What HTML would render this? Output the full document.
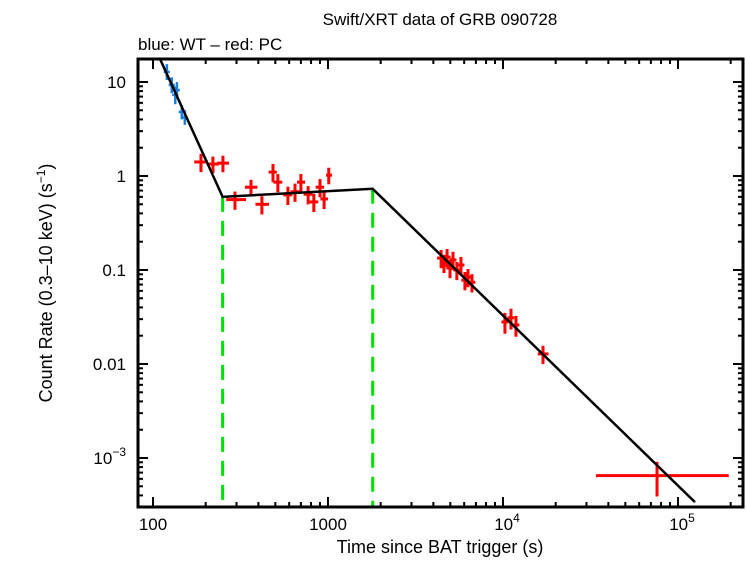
<!DOCTYPE html>
<html><head><meta charset="utf-8"><style>
body{margin:0;background:#fff;}
svg text{font-family:"Liberation Sans",sans-serif;fill:#000;}
</style></head><body>
<svg id="c" width="746" height="558" xmlns="http://www.w3.org/2000/svg">
<text x="440" y="25" font-size="17" text-anchor="middle">Swift/XRT data of GRB 090728</text>
<text x="138" y="50" font-size="17">blue: WT – red: PC</text>
<text x="440" y="553" font-size="18" text-anchor="middle">Time since BAT trigger (s)</text>
<text transform="translate(52,283) rotate(-90)" font-size="18" text-anchor="middle">Count Rate (0.3–10 keV) (s<tspan dy="-7" font-size="12">−1</tspan><tspan dy="7">)</tspan></text>
<g id="g"></g>
</svg>
<script>
const xTickVals=[100,1000,10000,100000];
const xTickLabels=["100","1000","10^4","10^5"];
const yTickVals=[10,1,0.1,0.01,0.001];
const yTickLabels=["10","1","0.1","0.01","10^-3"];
const wtT=[120,128,134,137,146,152];
const wtY=[12.8,9.3,7.3,8.2,4.8,4.2];
const wtYlo=[10.5,7.6,5.8,6.6,4.0,3.5];
const wtYhi=[15.5,11.2,9.0,10.0,5.7,5.0];
const pcT=[188,220,251,294,363,419,485,517,590,648,700,770,830,900,950,1010,4430,4600,4790,4980,5180,5450,5750,6060,6310,6650,10260,11110,11860,16930,75900];
const pcY=[1.41,1.34,1.37,0.56,0.76,0.50,1.1,0.86,0.63,0.68,0.86,0.64,0.53,0.76,0.57,1.02,0.134,0.119,0.137,0.105,0.128,0.1,0.113,0.078,0.084,0.074,0.028,0.031,0.026,0.0128,0.00065];
const pcTlo=[172,203,232,262,335,385,458,488,555,610,665,725,785,850,905,975,4200,4380,4560,4750,4950,5200,5480,5780,6020,6350,9800,10600,11300,15800,34000];
const pcThi=[206,238,272,340,395,460,510,548,625,690,740,815,880,950,1000,1055,4650,4820,5020,5220,5420,5700,6020,6350,6600,6950,10700,11600,12400,18200,195000];
const pcYrel=[0.22,0.2,0.2,0.22,0.2,0.22,0.22,0.22,0.22,0.22,0.22,0.22,0.22,0.22,0.22,0.2,0.22,0.22,0.22,0.22,0.22,0.22,0.22,0.22,0.22,0.22,0.25,0.25,0.25,0.22,0.4];
const breaks=[250,1800];
const breakY=[0.6];
const slopes=[-4.1,0.1,-1.81];
const modelRange=[100,125000];

const L=138,R=743,T=59,B=507;
const X=t=>153+175*(Math.log10(t)-2);
const Y=v=>176-94*Math.log10(v);
const g=document.getElementById('g');
const NS="http://www.w3.org/2000/svg";
function mk(tag,at){const e=document.createElementNS(NS,tag);for(const k in at)e.setAttribute(k,at[k]);g.appendChild(e);return e;}
function model(t){
  let y=breakY[0];
  if(t<=breaks[0]) return y*Math.pow(t/breaks[0],slopes[0]);
  if(t<=breaks[1]) return y*Math.pow(t/breaks[0],slopes[1]);
  const y1=y*Math.pow(breaks[1]/breaks[0],slopes[1]);
  return y1*Math.pow(t/breaks[1],slopes[2]);
}
const cp=document.createElementNS(NS,'clipPath');cp.setAttribute('id','pc');
const cr=document.createElementNS(NS,'rect');cr.setAttribute('x',L);cr.setAttribute('y',T);cr.setAttribute('width',R-L);cr.setAttribute('height',B-T);cp.appendChild(cr);g.appendChild(cp);
breaks.forEach((b,i)=>{
  const l=mk('line',{x1:X(b),x2:X(b),y1:Y(model(b)),y2:B,stroke:'#00e000','stroke-width':3,'stroke-dasharray':'15,9'});
  
  
});
wtT.forEach((t,i)=>{
  const gg=mk('g',{stroke:'#1a80e0','stroke-width':2.5,'clip-path':'url(#pc)'});
  
  
  const a=document.createElementNS(NS,'line');a.setAttribute('x1',X(t));a.setAttribute('x2',X(t));a.setAttribute('y1',Y(wtYlo[i]));a.setAttribute('y2',Y(wtYhi[i]));gg.appendChild(a);
  const b=document.createElementNS(NS,'line');b.setAttribute('x1',X(t*0.96));b.setAttribute('x2',X(t*1.04));b.setAttribute('y1',Y(wtY[i]));b.setAttribute('y2',Y(wtY[i]));gg.appendChild(b);
});
pcT.forEach((t,i)=>{
  const gg=mk('g',{stroke:'#ff0000','stroke-width':3,'clip-path':'url(#pc)'});
  
  
  const a=document.createElementNS(NS,'line');a.setAttribute('x1',X(t));a.setAttribute('x2',X(t));a.setAttribute('y1',Y(pcY[i]*(1-pcYrel[i])));a.setAttribute('y2',Y(pcY[i]*(1+pcYrel[i])));gg.appendChild(a);
  const b=document.createElementNS(NS,'line');b.setAttribute('x1',X(pcTlo[i]));b.setAttribute('x2',X(pcThi[i]));b.setAttribute('y1',Y(pcY[i]));b.setAttribute('y2',Y(pcY[i]));gg.appendChild(b);
});
const pts=[modelRange[0],breaks[0],breaks[1],modelRange[1]].map(t=>X(t)+','+Y(model(t))).join(' ');
const m=mk('polyline',{points:pts,fill:'none',stroke:'#000','stroke-width':2.5,'clip-path':'url(#pc)'});


const fr=mk('rect',{x:L,y:T,width:R-L,height:B-T,fill:'none',stroke:'#000','stroke-width':3});


for(let d=2;d<=5;d++)for(let k=1;k<10;k++){
  const t=k*Math.pow(10,d);const x=X(t);if(x<L||x>R)continue;
  const len=k===1?10:5;
  mk('line',{x1:x,x2:x,y1:B,y2:B-len,stroke:'#000','stroke-width':2});
  mk('line',{x1:x,x2:x,y1:T,y2:T+len,stroke:'#000','stroke-width':2});
}
for(let d=-4;d<=1;d++)for(let k=1;k<10;k++){
  const v=k*Math.pow(10,d);const y=Y(v);if(y<T||y>B)continue;
  const len=k===1?10:5;
  mk('line',{x1:L,x2:L+len,y1:y,y2:y,stroke:'#000','stroke-width':2});
  mk('line',{x1:R,x2:R-len,y1:y,y2:y,stroke:'#000','stroke-width':2});
}
function lab(s,x,y,anchor,name){
  const e=mk('text',{x:x,y:y,'font-size':17,'text-anchor':anchor});
  
  
  if(s.includes('^')){const [b,p]=s.split('^');e.appendChild(document.createTextNode(b));
    const ts=document.createElementNS(NS,'tspan');ts.setAttribute('dy','-8');ts.setAttribute('font-size','12');ts.textContent=p.replace('-','−');e.appendChild(ts);}
  else e.textContent=s;
}
xTickVals.forEach((v,i)=>lab(xTickLabels[i],X(v)+(xTickLabels[i].includes('^')?4:0),530,'middle','x-tick-label'));
yTickVals.forEach((v,i)=>lab(yTickLabels[i],126,Y(v)+6,'end','y-tick-label'));
</script>
</body></html>
